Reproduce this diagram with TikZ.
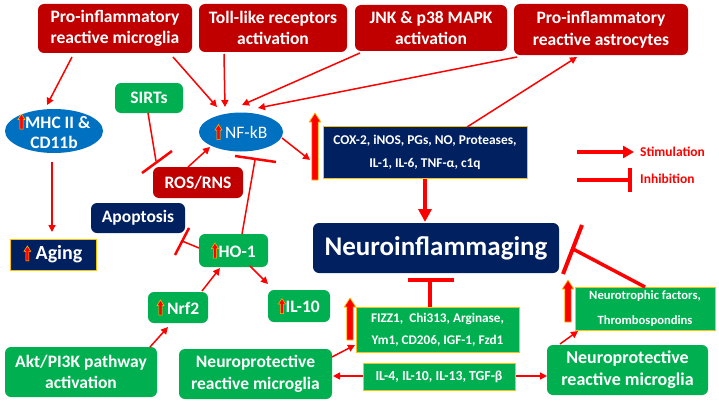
\documentclass[tikz,border=0pt]{standalone}
\usepackage{fontspec}
\setmainfont{Carlito}
\usetikzlibrary{arrows.meta,shapes.geometric,calc}
\definecolor{dred}{HTML}{C00000}
\definecolor{navyb}{HTML}{002060}
\definecolor{grn}{HTML}{00B050}
\definecolor{blu}{HTML}{0070C0}
\definecolor{ylw}{HTML}{FFC000}
\definecolor{lred}{HTML}{FF0000}
\newcommand\upm{\tikz[baseline=0pt,x=1pt,y=1pt,sharp corners]\filldraw[fill=lred,draw=ylw,line width=0.5pt](-1.6,-1)--(-1.6,8.5)--(-3.5,8.5)--(0,14)--(3.5,8.5)--(1.6,8.5)--(1.6,-1)--cycle;}
\newcommand\bigarrow[4]{%
  \filldraw[bigup] (#2-3.2,#4) -- (#2-3.2,#3+9) -- (#2-5.8,#3+9) -- (#2,#3) -- (#2+5.8,#3+9) -- (#2+3.2,#3+9) -- (#2+3.2,#4) -- cycle;
  \coordinate (#1) at (#2,#3);}
\tikzset{
  box/.style={rounded corners=6pt, inner sep=0pt, align=center, text=white, font=\fontsize{17.5}{21.5}\selectfont\bfseries},
  redbox/.style={box, fill=dred},
  grnbox/.style={box, fill=grn},
  navbox/.style={box, fill=navyb},
  sqbox/.style={sharp corners, draw=ylw, line width=0.7pt},
  ell/.style={ellipse, fill=blu, inner sep=0pt},
  act/.style={draw=lred, line width=1.5pt, -{Triangle[length=7pt,width=7pt]}},
  actboth/.style={draw=lred, line width=1.5pt, {Triangle[length=7pt,width=7pt]}-{Triangle[length=7pt,width=7pt]}},
  inhl/.style={draw=lred, line width=1.5pt},
  tbar/.style={draw=lred, line width=2.5pt},
  thick inh/.style={draw=lred, line width=4pt},
  bigup/.style={fill=lred, draw=ylw, line width=0.7pt},
  sz/.style 2 args={minimum width=#1pt, minimum height=#2pt},
  legtxt/.style={anchor=west, inner sep=0pt, text=lred, font=\fontsize{13.5}{15}\selectfont\bfseries},
}
\begin{document}
\begin{tikzpicture}[x=1pt,y=-1pt]
\useasboundingbox (0,0) rectangle (719,404);
\fill[white] (0,0) rectangle (719,404);

% nodes
\node[redbox, sz={154}{49}] (pim) at (115,28.5) {Pro-inflammatory\\reactive microglia};
\node[redbox, sz={148}{48}] (tlr) at (273,28) {Toll-like receptors\\activation};
\node[redbox, sz={152}{46}] (jnk) at (431,28) {JNK \& p38 MAPK\\activation};
\node[redbox, sz={174}{51}] (ast) at (601,29.5) {Pro-inflammatory\\reactive astrocytes};
\node[grnbox, sz={68}{30}] (sirts) at (149,98) {SIRTs};
\node[ell, sz={98}{44}] (mhc) at (54,131) {};
\node[inner sep=0pt, align=center, text=white, font=\fontsize{17.5}{20}\selectfont\bfseries] (mhct) at (mhc) {\upm MHC II \&\\CD11b};
\node[ell, sz={84}{39}] (nfkb) at (241,132) {};
\node[inner sep=0pt, text=white, font=\fontsize{17.5}{20}\selectfont] (nfkbt) at (nfkb) {\upm\,NF-kB};
\node[navbox, sqbox, sz={204}{52}, font=\fontsize{13.4}{23}\selectfont\bfseries] (cox) at (425,152) {COX-2, iNOS, PGs, NO, Proteases,\\IL-1, IL-6, TNF-α, c1q};
\node[redbox, sz={90}{31}] (ros) at (198,182.5) {ROS/RNS};
\node[navbox, sz={94}{30}] (apop) at (138,218) {Apoptosis};
\node[grnbox, sz={69}{33}] (ho1) at (233.5,250.5) {\upm HO-1};
\node[navbox, sqbox, sz={86}{31}, font=\fontsize{20}{22}\selectfont\bfseries] (aging) at (53,254.5) {\upm\ Aging};
\node[navbox, sz={246}{50}, font=\fontsize{27}{30}\selectfont\bfseries] (neuro) at (436,248) {Neuroinflammaging};
\node[grnbox, sz={60}{31}] (nrf2) at (178,307.5) {\upm\,Nrf2};
\node[grnbox, sz={62}{32}] (il10) at (299,306) {\upm IL-10};
\node[grnbox, sz={152}{50}] (akt) at (81,372) {Akt/PI3K pathway\\activation};
\node[grnbox, sz={153}{50}] (lnpm) at (255.5,374) {Neuroprotective\\reactive microglia};
\node[grnbox, sqbox, sz={163}{45}, font=\fontsize{13.2}{22}\selectfont\bfseries] (fizz) at (437.5,329.5) {FIZZ1,\ \ Chi313, Arginase,\\Ym1, CD206, IGF-1, Fzd1};
\node[grnbox, sz={161}{50}, font=\fontsize{18}{22}\selectfont\bfseries] (rnpm) at (627.5,370) {Neuroprotective\\reactive microglia};
\node[grnbox, sqbox, sz={140}{43}, font=\fontsize{12.6}{25}\selectfont\bfseries] (ntf) at (645,308.5) {Neurotrophic factors,\\Thrombospondins};

% big increase arrows
\bigarrow{coxup}{315}{113}{180}
\bigarrow{fizzup}{350}{298}{340}
\bigarrow{ntfup}{568}{280}{322}

% stimulation connectors
\draw[act] ($(pim)+(-43,28.5)$) -- ($(mhc)+(-7,-26)$);
\draw[act] ($(pim)+(58,28.5)$) -- ($(nfkb)+(-24,-25)$);
\draw[act] ($(tlr)+(-49,26)$) -- ($(nfkb)+(-16,-25)$);
\draw[act] ($(jnk)+(-71,25)$) -- ($(nfkb)+(1,-27)$);
\draw[act] ($(ast)+(-84,27.5)$) -- ($(nfkb)+(17,-24)$);
\draw[act] ($(cox)+(42,-25)$) -- ($(ast)+(-24,27.5)$);
\draw[act] ($(nfkb)+(41,6)$) -- ($(coxup)+(-5,47)$);
\draw[act] ($(ros)+(-10,-15.5)$) -- ($(nfkb)+(-31,15)$);
\draw[act] ($(mhc)+(-2,31)$) -- ($(aging)+(-1,-22.5)$);
\draw[act] ($(nrf2)+(24,-16.5)$) -- ($(ho1)+(-13.5,17.5)$);
\draw[act] ($(ho1)+(16.5,15.5)$) -- ($(il10)+(-31,-22)$);
\draw[act] ($(akt)+(69,-25)$) -- ($(nrf2)+(-10,19.5)$);
\draw[act] ($(lnpm)+(76.5,-17)$) -- ($(fizz)+(-82.5,15.5)$);
\draw[act] ($(rnpm)+(-67.5,-26)$) -- ($(ntf)+(-67,22.5)$);
\draw[draw=lred, line width=4pt, -{Triangle[length=13pt,width=13pt]}] ($(cox)+(0,27)$) -- ($(neuro)+(-11,-26)$);
\draw[actboth] ($(lnpm)+(77.5,2)$) -- ($(rnpm)+(-80.5,6)$);
\node[grnbox, sqbox, sz={152}{27}, font=\fontsize{13.8}{15}\selectfont\bfseries] (il4) at (439,376.5) {IL-4, IL-10, IL-13, TGF-β};

% inhibition connectors
\draw[inhl] ($(sirts)+(-1,15)$) -- ($(ros)+(-42,-21.5)$);
\draw[tbar] ($(ros)+(-56,-9.5)$) -- ($(ros)+(-26,-31.5)$);
\draw[inhl] ($(ho1)+(8.5,-16.5)$) -- ($(nfkb)+(14,28)$);
\draw[tbar] ($(nfkb)+(-6,24)$) -- ($(nfkb)+(35,30)$);
\draw[inhl] ($(ho1)+(-34.5,-2.5)$) -- ($(apop)+(44,23)$);
\draw[tbar] ($(apop)+(37,37)$) -- ($(apop)+(51,10)$);
\draw[draw=lred, line width=3.5pt] ($(ntf)+(0,-21.5)$) -- ($(neuro)+(137,1)$);
\draw[thick inh] ($(neuro)+(146,-23)$) -- ($(neuro)+(127,26)$);
\draw[thick inh] ($(fizz)+(-7.5,-22.5)$) -- ($(neuro)+(-6,32)$);
\draw[thick inh] ($(neuro)+(-28,32)$) -- ($(neuro)+(18,32)$);

% legend
\node[legtxt] (stimt) at (640,152) {Stimulation};
\node[legtxt] (inht) at (640,179) {Inhibition};
\draw[draw=lred, line width=4pt, -{Triangle[length=11pt,width=12pt]}] ($(stimt.west)+(-63,0)$) -- ($(stimt.west)+(-6,0)$);
\draw[thick inh] ($(inht.west)+(-63,1)$) -- ($(inht.west)+(-10,1)$);
\draw[thick inh] ($(inht.west)+(-10,-11)$) -- ($(inht.west)+(-10,13)$);
\end{tikzpicture}
\end{document}
